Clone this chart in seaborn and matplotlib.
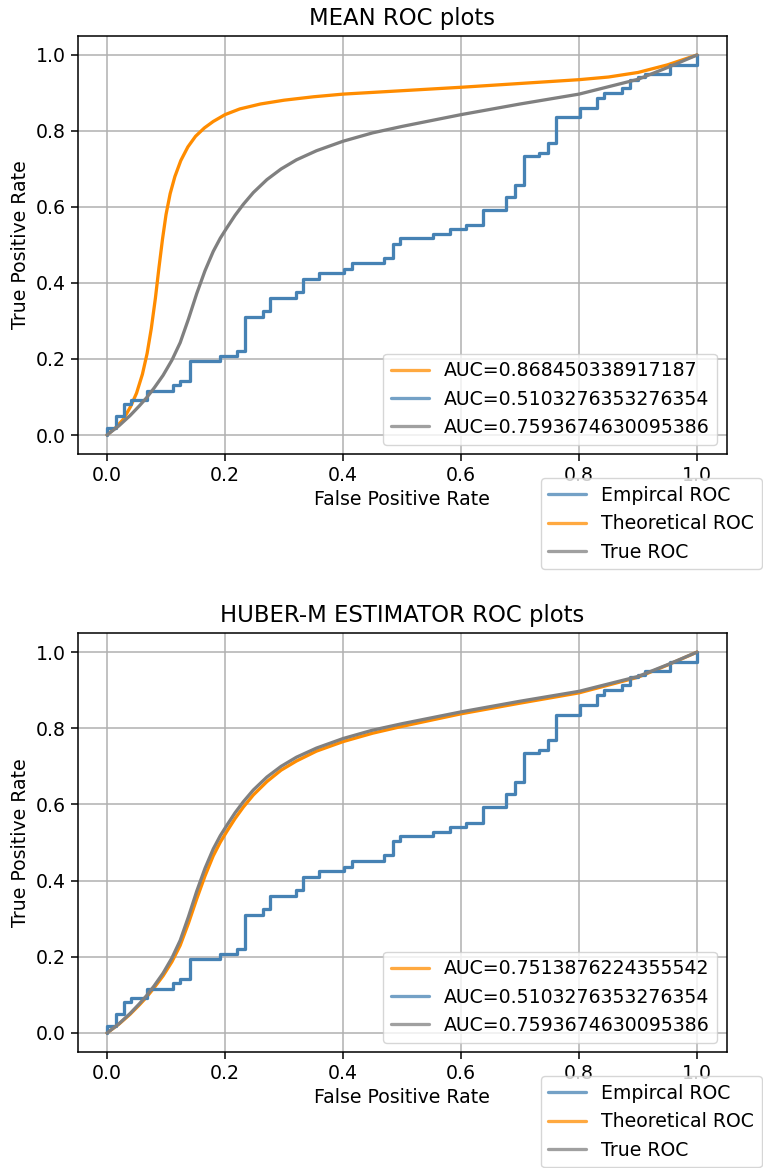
import numpy as np
import pandas as pd
import matplotlib
matplotlib.use("Agg")
import matplotlib.pyplot as plt
from matplotlib.lines import Line2D
import seaborn as sns

# ---- data -------------------------------------------------------------
# empirical ROC (corner points, drawn as a staircase)
emp_fpr = [0.0, 0.0, 0.015, 0.029, 0.040, 0.067, 0.111, 0.123, 0.140, 0.192,
           0.221, 0.234, 0.264, 0.277, 0.320, 0.332, 0.360, 0.402, 0.415, 0.470,
           0.484, 0.497, 0.553, 0.582, 0.609, 0.638, 0.676, 0.692, 0.706, 0.733,
           0.748, 0.761, 0.802, 0.830, 0.843, 0.872, 0.886, 0.900, 0.912, 0.955, 1.0]
emp_tpr = [0.0, 0.0175, 0.050, 0.081, 0.092, 0.116, 0.131, 0.142, 0.195, 0.208,
           0.220, 0.310, 0.325, 0.360, 0.375, 0.410, 0.426, 0.436, 0.452, 0.467,
           0.503, 0.518, 0.528, 0.542, 0.552, 0.593, 0.627, 0.659, 0.734, 0.742,
           0.769, 0.836, 0.860, 0.887, 0.901, 0.914, 0.934, 0.941, 0.950, 0.973, 1.0]

# theoretical ROC, mean estimator
mean_fpr = [0.0, 0.015, 0.028, 0.040, 0.050, 0.060, 0.068, 0.075, 0.082, 0.088,
            0.094, 0.100, 0.107, 0.115, 0.125, 0.137, 0.150, 0.165, 0.180, 0.200,
            0.225, 0.260, 0.300, 0.350, 0.400, 0.500, 0.600, 0.700, 0.800, 0.850,
            0.900, 0.950, 1.0]
mean_tpr = [0.0, 0.020, 0.042, 0.075, 0.110, 0.160, 0.215, 0.280, 0.360, 0.440,
            0.515, 0.580, 0.635, 0.680, 0.722, 0.758, 0.786, 0.808, 0.825, 0.843,
            0.858, 0.871, 0.881, 0.890, 0.897, 0.906, 0.915, 0.925, 0.935, 0.942,
            0.954, 0.974, 1.0]

# shared FPR grid for the Huber and true ROC curves
grid_fpr = [0.0, 0.020, 0.039, 0.055, 0.067, 0.080, 0.095, 0.110, 0.124, 0.138,
            0.152, 0.166, 0.180, 0.192, 0.203, 0.217, 0.231, 0.248, 0.271, 0.295,
            0.321, 0.355, 0.400, 0.450, 0.500, 0.600, 0.700, 0.800, 0.900, 0.950,
            1.0]

# theoretical ROC, Huber M-estimator
huber_tpr = [0.0, 0.023, 0.049, 0.074, 0.094, 0.119, 0.150, 0.187, 0.230, 0.288,
             0.352, 0.412, 0.465, 0.501, 0.529, 0.563, 0.593, 0.625, 0.660, 0.690,
             0.714, 0.740, 0.765, 0.787, 0.805, 0.838, 0.866, 0.893, 0.934, 0.966,
             1.0]

# true ROC
true_tpr = [0.0, 0.024, 0.051, 0.077, 0.098, 0.124, 0.157, 0.197, 0.243, 0.305,
            0.372, 0.432, 0.483, 0.518, 0.545, 0.578, 0.607, 0.638, 0.672, 0.700,
            0.724, 0.748, 0.773, 0.795, 0.812, 0.843, 0.871, 0.897, 0.936, 0.967,
            1.0]

auc_mean = "AUC=0.868450338917187"
auc_huber = "AUC=0.7513876224355542"
auc_emp = "AUC=0.5103276353276354"
auc_true = "AUC=0.7593674630095386"

titles = ["MEAN ROC plots", "HUBER-M ESTIMATOR ROC plots"]
curve_names = ["Empircal ROC", "Theoretical ROC", "True ROC"]
ticks = [0.0, 0.2, 0.4, 0.6, 0.8, 1.0]

# ---- style ------------------------------------------------------------
sns.set_theme(style="ticks", rc={
    "axes.edgecolor": "black",
    "axes.linewidth": 1.1,
    "axes.grid": True,
    "grid.color": "#b0b0b0",
    "grid.linewidth": 1.1,
    "xtick.color": "black",
    "ytick.color": "black",
    "xtick.major.size": 4.8,
    "ytick.major.size": 4.8,
    "xtick.major.width": 1.1,
    "ytick.major.width": 1.1,
    "text.color": "black",
    "axes.labelcolor": "black",
    "font.size": 13.6,
    "axes.labelsize": 13.6,
    "axes.titlesize": 16.4,
    "xtick.labelsize": 13.6,
    "ytick.labelsize": 13.6,
    "legend.fontsize": 13.6,
})
plt.rcParams["font.family"] = ["DejaVu Sans"]

C_EMP = "#4682b4"
C_THEO = "#ff8c00"
C_TRUE = "#808080"
LW = 2.35

fig = plt.figure(figsize=(7.63, 11.68), dpi=100)
ax_top = fig.add_axes([0.1016, 0.6113, 0.8506, 0.3579])
ax_bot = fig.add_axes([0.1016, 0.0993, 0.8506, 0.3587])

panels = [
    (ax_top, mean_fpr, mean_tpr, auc_mean, titles[0]),
    (ax_bot, grid_fpr, huber_tpr, auc_huber, titles[1]),
]


def proxy(c):
    return Line2D([], [], color=c, lw=LW, alpha=0.75)


for ax, th_fpr, th_tpr, th_auc, title in panels:
    sns.lineplot(x=th_fpr, y=th_tpr, sort=False, estimator=None,
                 color=C_THEO, lw=LW, ax=ax, legend=False)
    sns.lineplot(x=emp_fpr, y=emp_tpr, sort=False, estimator=None,
                 color=C_EMP, lw=LW, drawstyle="steps-post", ax=ax, legend=False)
    sns.lineplot(x=grid_fpr, y=true_tpr, sort=False, estimator=None,
                 color=C_TRUE, lw=LW, ax=ax, legend=False)

    ax.set_xlim(-0.05, 1.05)
    ax.set_ylim(-0.05, 1.05)
    ax.set_xticks(ticks)
    ax.set_yticks(ticks)
    ax.set_xlabel("False Positive Rate")
    ax.set_ylabel("True Positive Rate")
    ax.set_title(title, pad=8)
    for s in ax.spines.values():
        s.set_visible(True)
        s.set_color("black")

    leg1 = ax.legend([proxy(C_THEO), proxy(C_EMP), proxy(C_TRUE)],
                     [th_auc, auc_emp, auc_true], loc="lower right",
                     framealpha=0.8, edgecolor="0.8", fancybox=True)
    ax.add_artist(leg1)
    ax.legend([proxy(C_EMP), proxy(C_THEO), proxy(C_TRUE)], curve_names,
              loc="upper left", bbox_to_anchor=(0.714, -0.058),
              borderaxespad=0, framealpha=0.8, edgecolor="0.8", fancybox=True)

fig.savefig("out.png", dpi=100)
